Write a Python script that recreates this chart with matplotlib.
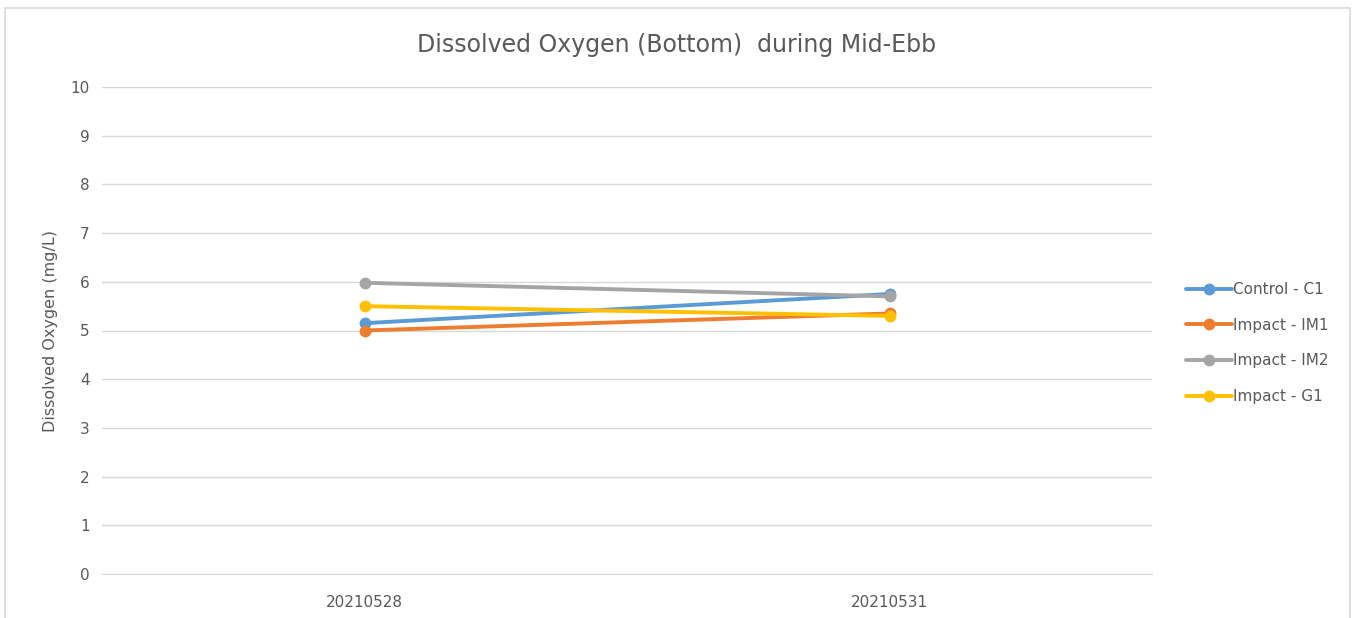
import matplotlib
matplotlib.use("Agg")
import matplotlib.pyplot as plt
from matplotlib.patches import Rectangle

# Data
dates = ["20210528", "20210531"]
control_c1 = [5.15, 5.75]
impact_im1 = [5.0, 5.35]
impact_im2 = [5.98, 5.7]
impact_g1 = [5.5, 5.3]

series = [
    ("Control - C1", control_c1, "#5B9BD5"),
    ("Impact - IM1", impact_im1, "#ED7D31"),
    ("Impact - IM2", impact_im2, "#A5A5A5"),
    ("Impact - G1", impact_g1, "#FFC000"),
]

TEXT = "#595959"
GRID = "#D9D9D9"

fig = plt.figure(figsize=(13.55, 6.18), dpi=100)
ax = fig.add_axes([102 / 1355, 1 - 574 / 618, 1050 / 1355, (574 - 87) / 618])

# outer chart frame
fig.patches.append(Rectangle((5 / 1355, -0.01), 1345 / 1355, 1 - 8 / 618 + 0.01,
                             transform=fig.transFigure, fill=False,
                             edgecolor="#D9D9D9", linewidth=1.2))

x = list(range(len(dates)))
for name, vals, color in series:
    ax.plot(x, vals, color=color, linewidth=2.8, marker="o", markersize=7.5,
            label=name, solid_capstyle="round")

ax.set_xlim(-0.5, len(dates) - 0.5)
ax.set_ylim(0, 10)
ax.set_yticks(range(0, 11))
ax.set_xticks(x)
ax.set_xticklabels(dates)
ax.yaxis.grid(True, color=GRID, linewidth=1)
ax.set_axisbelow(True)
for side in ["top", "right", "left"]:
    ax.spines[side].set_visible(False)
ax.spines["bottom"].set_color(GRID)
ax.tick_params(axis="both", length=0, colors=TEXT, labelsize=11)
ax.tick_params(axis="y", pad=9)
ax.tick_params(axis="x", pad=15)

ax.set_ylabel("Dissolved Oxygen (mg/L)", color=TEXT, fontsize=11.5, labelpad=9)
fig.text(677 / 1355, 1 - 45 / 618, "Dissolved Oxygen (Bottom)  during Mid-Ebb",
         ha="center", va="center", color=TEXT, fontsize=17)

leg = ax.legend(loc="center left", bbox_to_anchor=(1172 / 1355, 1 - 343 / 618),
                bbox_transform=fig.transFigure, frameon=False, fontsize=11,
                handlelength=3.0, handletextpad=0.1, labelspacing=1.35)
for t in leg.get_texts():
    t.set_color(TEXT)

fig.savefig("out.png", dpi=100)
